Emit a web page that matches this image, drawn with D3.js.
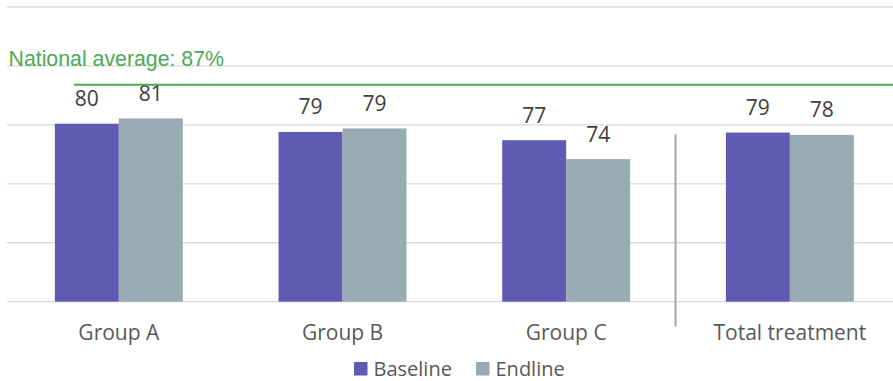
<!DOCTYPE html>
<html>
<head>
<meta charset="utf-8">
<script src="https://cdn.jsdelivr.net/npm/d3@7"></script>
<style>
  html, body { margin: 0; padding: 0; background: #fff; }
  svg { display: block; }
</style>
</head>
<body>
<svg id="chart" width="893" height="381"></svg>
<script>
// ---- data ----
const categories = ["Group A", "Group B", "Group C", "Total treatment"];
const seriesNames = ["Baseline", "Endline"];
const baselineValues = [80.2, 78.8, 77.4, 78.7];
const endlineValues = [81.1, 79.4, 74.2, 78.3];
const nationalAverage = 86.8;
const yTicks = [50, 60, 70, 80, 90, 100];

// ---- layout ----
const W = 893, H = 381;
const svg = d3.select("#chart");
const colors = { Baseline: "#5f5bb2", Endline: "#98abb5" };

const y = d3.scaleLinear().domain([50, 100]).range([301.7, 7]);
const x0 = d3.scaleBand().domain(categories).range([7, 901.7]).paddingInner(0).paddingOuter(0);
const x1 = d3.scaleBand().domain(seriesNames).range([0, x0.bandwidth()]).paddingInner(0).paddingOuter(0.748);

const rows = categories.map((c, i) => ({
  category: c,
  values: [
    { series: "Baseline", value: baselineValues[i] },
    { series: "Endline", value: endlineValues[i] }
  ]
}));

// gridlines
svg.append("g")
  .selectAll("line")
  .data(yTicks)
  .join("line")
  .attr("x1", 7).attr("x2", W)
  .attr("y1", d => y(d)).attr("y2", d => y(d))
  .attr("stroke", "#d9d9d9")
  .attr("stroke-width", 1.3);

// bars
const groups = svg.append("g")
  .selectAll("g")
  .data(rows)
  .join("g")
  .attr("transform", d => `translate(${x0(d.category)},0)`);

groups.selectAll("rect")
  .data(d => d.values)
  .join("rect")
  .attr("x", d => x1(d.series))
  .attr("width", x1.bandwidth())
  .attr("y", d => y(d.value))
  .attr("height", d => y(50) - y(d.value))
  .attr("fill", d => colors[d.series]);

groups.selectAll("text")
  .data(d => d.values)
  .join("text")
  .attr("x", d => x1(d.series) + x1.bandwidth() / 2)
  .attr("y", d => y(d.value) - 17.5)
  .attr("text-anchor", "middle")
  .attr("font-family", "'Open Sans', sans-serif")
  .attr("font-size", 21)
  .attr("fill", "#404040")
  .text(d => Math.round(d.value));

// category axis labels
const xAxis = d3.axisBottom(x0).tickSize(0).tickPadding(0);
const gx = svg.append("g").attr("transform", `translate(0,${y(50)})`).call(xAxis);
gx.select(".domain").remove();
gx.selectAll("text")
  .attr("dy", 0)
  .attr("y", 38.5)
  .attr("font-family", "'Open Sans', sans-serif")
  .attr("font-size", 21)
  .attr("fill", "#595959");

// separator line between groups and total
svg.append("line")
  .attr("x1", x0("Total treatment") - 2.5).attr("x2", x0("Total treatment") - 2.5)
  .attr("y1", 134.3).attr("y2", 326.7)
  .attr("stroke", "#98abb5")
  .attr("stroke-width", 2);

// national average line
svg.append("line")
  .attr("x1", 74).attr("x2", W)
  .attr("y1", y(nationalAverage)).attr("y2", y(nationalAverage))
  .attr("stroke", "#4caa57")
  .attr("stroke-width", 2);

svg.append("text")
  .attr("x", 8.5)
  .attr("y", 65.7)
  .attr("font-family", "'Liberation Sans', Arial, sans-serif")
  .attr("font-size", 21.3)
  .attr("fill", "#4caa57")
  .text(`National average: ${Math.round(nationalAverage)}%`);

// legend
const legendItems = [
  { name: "Baseline", x: 354 },
  { name: "Endline", x: 476 }
];
const lg = svg.append("g").selectAll("g").data(legendItems).join("g")
  .attr("transform", d => `translate(${d.x},362)`);
lg.append("rect").attr("width", 13.5).attr("height", 13.5).attr("fill", d => colors[d.name]);
lg.append("text")
  .attr("x", 19.5)
  .attr("y", 13.5)
  .attr("font-family", "'Open Sans', sans-serif")
  .attr("font-size", 20)
  .attr("fill", "#595959")
  .text(d => d.name);
</script>
</body>
</html>
